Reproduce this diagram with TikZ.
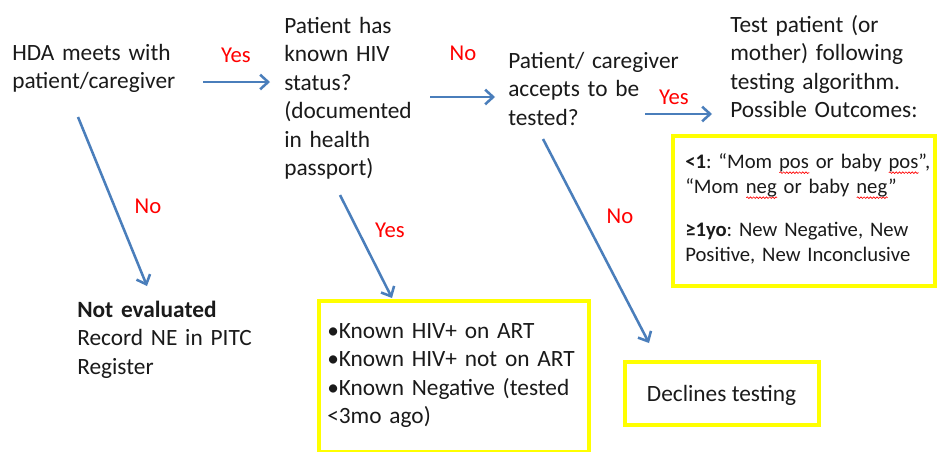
\documentclass[tikz,border=0pt]{standalone}
\usepackage{fontspec}
\setmainfont{Carlito}
\frenchspacing
\usetikzlibrary{arrows.meta, calc, shadows, decorations.pathmorphing}

\definecolor{flowblue}{HTML}{4A7EBB}
\definecolor{hiliteyellow}{HTML}{FFFF00}
\definecolor{txtgray}{HTML}{1A1A1A}
% red spell-check wave under a word
\newsavebox{\spellbox}
\newcommand{\spellmark}[1]{\sbox{\spellbox}{#1}\rlap{\tikz[baseline=0pt]
  \draw[red, line width=.5pt, decorate, decoration={snake, amplitude=.6pt,
  segment length=2.4pt}] (0pt,-3.5pt) -- (\wd\spellbox,-3.5pt);}#1}

\begin{document}
\begin{tikzpicture}[
    x=0.75pt, y=-0.75pt,
    txt/.style={anchor=base west, inner sep=0pt, align=left, text width=220pt,
      text=txtgray, font=\fontsize{17.5}{21.4}\selectfont},
    boxtxt/.style={txt, font=\fontsize{15.5}{18.75}\selectfont},
    ybox/.style={draw=hiliteyellow, line width=3pt, outer sep=0pt, inner sep=0pt,
      anchor=north west, fill=white,
      drop shadow={shadow xshift=1.5pt, shadow yshift=-1.5pt, opacity=.3}},
    arr/.style={-{Straight Barb[length=6pt, width=11pt]}, draw=flowblue, line width=1.9pt},
    lab/.style={anchor=base, inner sep=0pt, text=red, font=\fontsize{17}{20}\selectfont}
  ]
  \useasboundingbox[fill=white] (0,0) rectangle (937,451);

  % boxes
  \node[ybox, minimum width=196.5pt, minimum height=112.5pt] (outbox) at (673,135.5) {};
  \node[ybox, minimum width=202.5pt, minimum height=113.6pt] (knownbox) at (318.5,300.5) {};
  \node[ybox, minimum width=145.5pt, minimum height=47.25pt, text=txtgray,
    text depth=0pt, font=\fontsize{17.5}{21.4}\selectfont] (decbox) at (624.5,361.5)
    {Declines testing};

  % texts
  \node[txt] (hda) at (12,60) {HDA meets with\\patient/caregiver};
  \node[txt] (known) at (284,33)
    {Patient has\\known HIV\\status?\\(documented\\in health\\passport)};
  \node[txt] (accepts) at (508,68) {Patient/ caregiver\\accepts to be\\tested?};
  \node[txt] (test) at (730,32)
    {Test patient (or\\mother) following\\testing algorithm.\\Possible Outcomes:};
  \node[txt] (noteval) at (77,317) {\textbf{Not evaluated}\\Record NE in PITC\\Register};
  \node[boxtxt] (outtxt) at (685,168)
    {\textbf{<1}: “Mom \spellmark{pos} or baby \spellmark{pos}”,\\
     “Mom \spellmark{neg} or baby \spellmark{neg}”\\[14pt]
     \textbf{≥1yo}: New Negative, New\\Positive, New Inconclusive};
  \node[txt] (knowntxt) at (327,338)
    {•Known HIV+ on ART\\•Known HIV+ not on ART\\•Known Negative (tested\\<3mo ago)};

  % connectors
  \draw[arr] ($(hda.base west)+(191,22)$) -- ($(known.base west)+(-14,49)$);
  \draw[arr] ($(known.base west)+(146,64)$) -- ($(accepts.base west)+(-13,29)$);
  \draw[arr] ($(accepts.base west)+(137,46)$) -- ($(test.base west)+(-18,82)$);
  \draw[arr] ($(hda.base west)+(66,57)$) -- ($(noteval.base west)+(70,-31)$);
  \draw[arr] ($(known.base west)+(56,162)$) -- ($(knownbox.north west)+(73.5,-2.5)$);
  \draw[arr] ($(accepts.base west)+(35,71)$) -- ($(decbox.north west)+(24.5,-18.5)$);

  % answer labels
  \node[lab] (yes1) at (236,62) {Yes};
  \node[lab] (no1) at (463,60) {No};
  \node[lab] (yes2) at (674,104) {Yes};
  \node[lab] (no2) at (148,213) {No};
  \node[lab] (yes3) at (390,237) {Yes};
  \node[lab] (no3) at (620,223) {No};
\end{tikzpicture}
\end{document}
